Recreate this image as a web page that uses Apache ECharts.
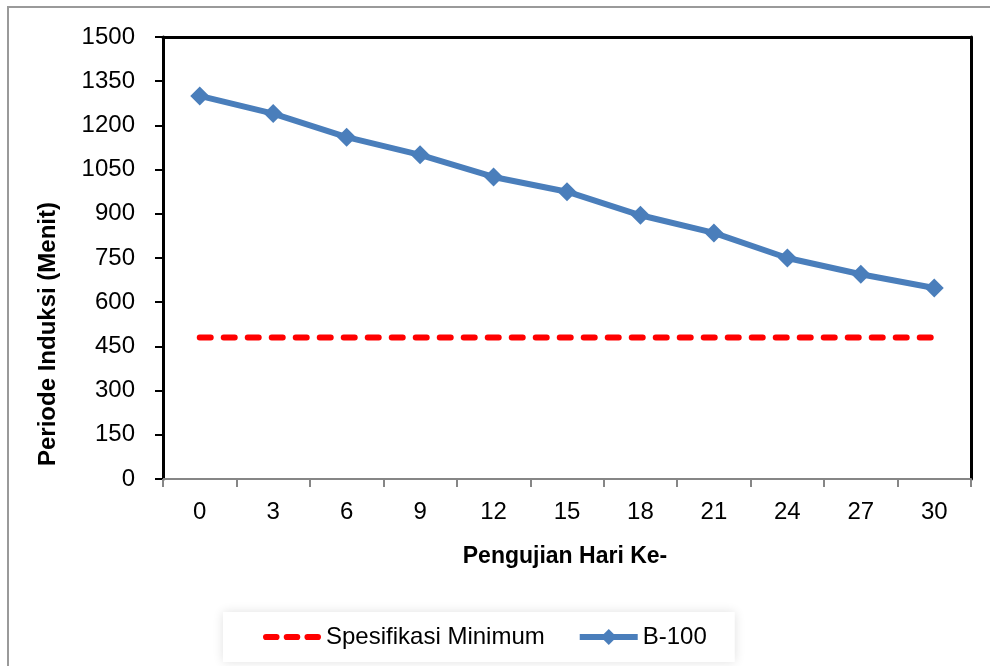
<!DOCTYPE html>
<html>
<head>
<meta charset="utf-8">
<script src="https://cdn.jsdelivr.net/npm/echarts@6/dist/echarts.min.js"></script>
<style>
  html, body { margin: 0; padding: 0; background: #fff; }
  #main { width: 990px; height: 666px; }
</style>
</head>
<body>
<div id="main"></div>
<script>
// hari pengujian (sumbu x)
const days = ['0', '3', '6', '9', '12', '15', '18', '21', '24', '27', '30'];
// periode induksi B-100 (menit)
const b100 = [1300, 1240, 1160, 1100, 1025, 975, 895, 835, 750, 695, 648];
// batas spesifikasi minimum
const specMin = [480, 480, 480, 480, 480, 480, 480, 480, 480, 480, 480];

const yMin = 0;
const yMax = 1500;
const yStep = 150;

const font = '"Liberation Sans", Arial, sans-serif';
const blue = '#4A7EBB';
const red = '#FF0000';

// ikon legenda garis putus-putus (tiga strip)
const dashIcon = 'path://M3,0h10a3,3 0 0 1 0,6h-10a3,3 0 0 1 0,-6z' +
  'M23,0h10a3,3 0 0 1 0,6h-10a3,3 0 0 1 0,-6z' +
  'M43,0h10a3,3 0 0 1 0,6h-10a3,3 0 0 1 0,-6z';

const chart = echarts.init(document.getElementById('main'), null, { renderer: 'canvas' });

const option = {
  animation: false,
  backgroundColor: '#fff',
  grid: {
    left: 163,
    right: 19,
    top: 37,
    bottom: 187,
    containLabel: false,
  },
  legend: {
    left: 223,
    top: 612,
    padding: [13, 28, 13, 40],
    itemWidth: 58,
    itemHeight: 20,
    itemGap: 32,
    backgroundColor: '#fff',
    shadowColor: 'rgba(0,0,0,0.12)',
    shadowBlur: 10,
    textStyle: {
      color: '#000',
      fontSize: 24,
      fontFamily: font,
    },
    data: [
      { name: 'Spesifikasi Minimum', icon: dashIcon, itemStyle: { color: red } },
      { name: 'B-100', lineStyle: { width: 6, color: blue } },
    ],
  },
  xAxis: [
    {
      type: 'category',
      data: days,
      boundaryGap: true,
      axisLine: { show: true, onZero: false, lineStyle: { color: '#868686', width: 2 } },
      axisTick: { show: true, length: 8, lineStyle: { color: '#868686', width: 2 } },
      axisLabel: {
        color: '#000',
        fontSize: 24,
        fontFamily: font,
        margin: 21,
      },
      splitLine: { show: false },
    },
    {
      // garis tepi atas
      type: 'category',
      position: 'top',
      data: days,
      axisLine: { show: true, onZero: false, lineStyle: { color: '#000', width: 3 } },
      axisTick: { show: false },
      axisLabel: { show: false },
      splitLine: { show: false },
    },
  ],
  yAxis: [
    {
      type: 'value',
      min: yMin,
      max: yMax,
      interval: yStep,
      axisLine: { show: true, onZero: false, lineStyle: { color: '#000', width: 3 } },
      axisTick: { show: true, length: 8, lineStyle: { color: '#000', width: 2 } },
      axisLabel: {
        color: '#000',
        fontSize: 24,
        fontFamily: font,
        margin: 28,
        formatter: (v) => String(v),
      },
      splitLine: { show: false },
    },
    {
      // garis tepi kanan
      type: 'value',
      position: 'right',
      min: yMin,
      max: yMax,
      interval: yStep,
      axisLine: { show: true, onZero: false, lineStyle: { color: '#000', width: 3 } },
      axisTick: { show: false },
      axisLabel: { show: false },
      splitLine: { show: false },
    },
  ],
  graphic: [
    {
      type: 'rect',
      silent: true,
      z: -10,
      shape: { x: 8, y: 7, width: 1000, height: 700 },
      style: { fill: 'none', stroke: '#9a9a9a', lineWidth: 2 },
    },
    {
      type: 'text',
      x: 48,
      y: 334,
      rotation: Math.PI / 2,
      style: {
        text: 'Periode Induksi (Menit)',
        fill: '#000',
        font: 'bold 24px ' + font,
        textAlign: 'center',
        textVerticalAlign: 'middle',
      },
    },
    {
      type: 'text',
      x: 565,
      y: 557,
      style: {
        text: 'Pengujian Hari Ke-',
        fill: '#000',
        font: 'bold 23px ' + font,
        textAlign: 'center',
        textVerticalAlign: 'middle',
      },
    },
  ],
  series: [
    {
      name: 'Spesifikasi Minimum',
      type: 'line',
      data: specMin,
      symbol: 'none',
      lineStyle: {
        color: red,
        width: 6,
        type: [11, 13],
        cap: 'round',
      },
      itemStyle: { color: red },
    },
    {
      name: 'B-100',
      type: 'line',
      data: b100,
      symbol: 'diamond',
      symbolSize: 19,
      showAllSymbol: true,
      lineStyle: { color: blue, width: 6 },
      itemStyle: { color: blue },
    },
  ],
};

chart.setOption(option);
</script>
</body>
</html>
